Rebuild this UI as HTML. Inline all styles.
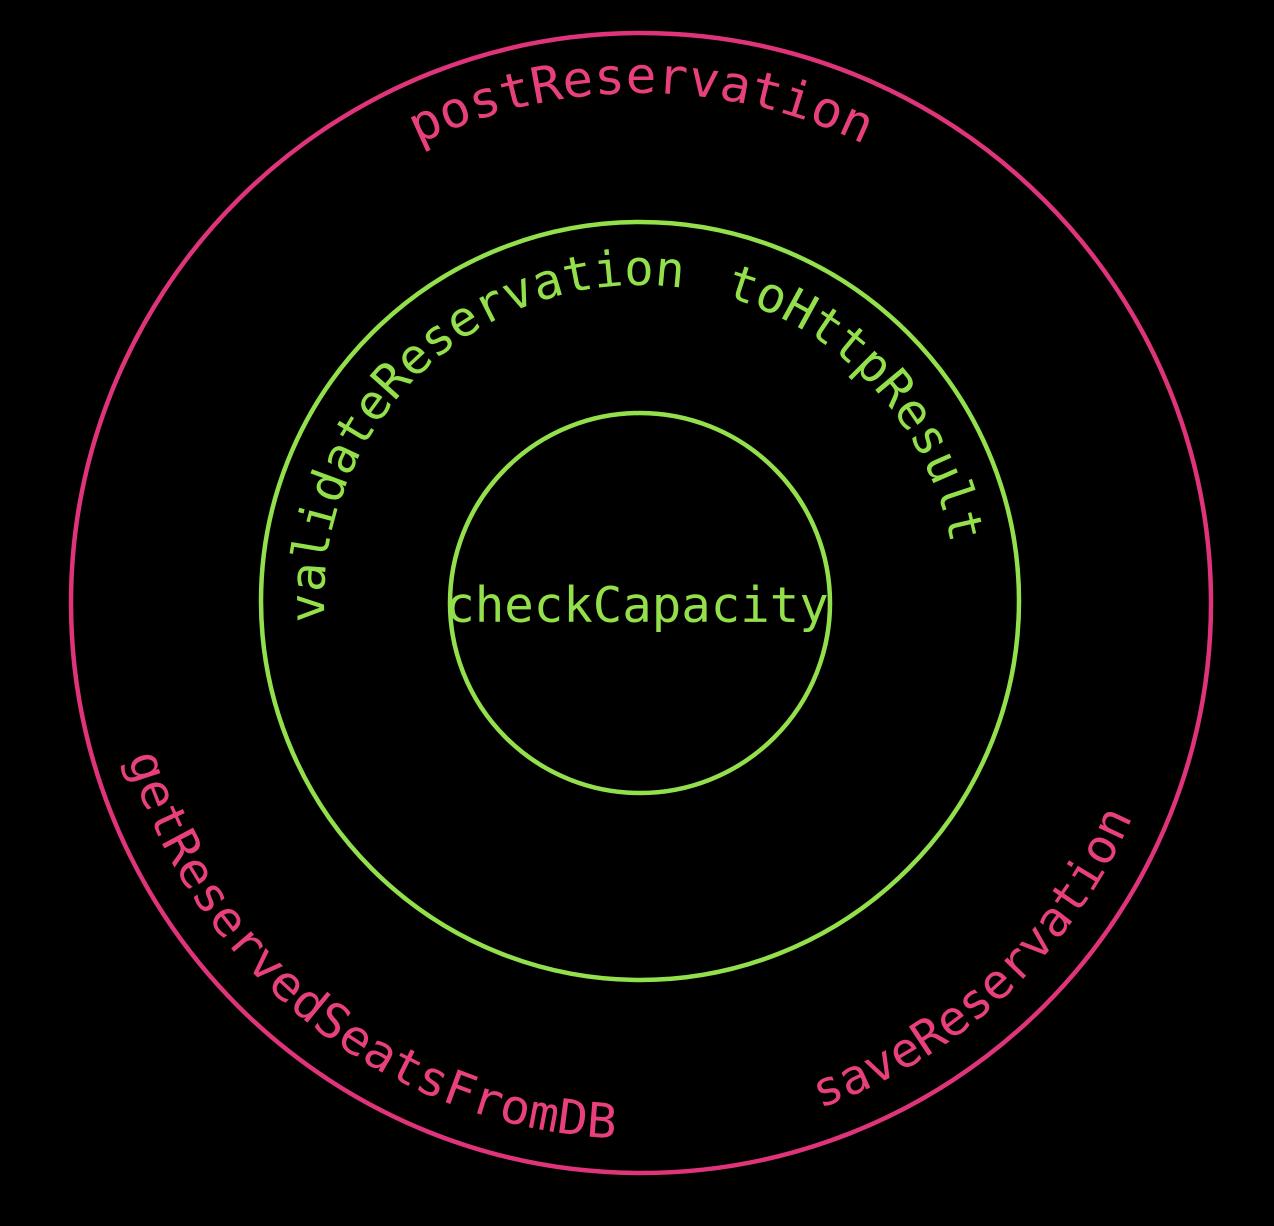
<!DOCTYPE html>
<html><head><meta charset="utf-8"><style>
html,body{margin:0;padding:0;background:#000;}
svg{display:block;}
text{font-family:"DejaVu Sans Mono","Liberation Mono",monospace;}
</style></head><body>
<svg id="s" width="1274" height="1226" viewBox="0 0 1274 1226">
<rect width="1274" height="1226" fill="#000"/>
<defs>
<path id="pPost"/><path id="pVal"/><path id="pHttp"/><path id="pGet"/><path id="pSave"/>
</defs>
<circle cx="641" cy="603" r="570" fill="none" stroke="#e0347a" stroke-width="4.5"/>
<circle cx="640" cy="601" r="379" fill="none" stroke="#93e04c" stroke-width="4.5"/>
<circle cx="640" cy="603" r="190" fill="none" stroke="#93e04c" stroke-width="4.5"/>
<text x="637" y="622" text-anchor="middle" font-size="49" fill="#93e04c">checkCapacity</text>
<text font-size="50" fill="#e8407c"><textPath href="#pPost" startOffset="50%" text-anchor="middle" textLength="462" lengthAdjust="spacingAndGlyphs">postReservation</textPath></text>
<text font-size="49" fill="#93e04c"><textPath href="#pVal" startOffset="50%" text-anchor="middle">validateReservation</textPath></text>
<text font-size="49" fill="#93e04c"><textPath href="#pHttp" startOffset="50%" text-anchor="middle">toHttpResult</textPath></text>
<text font-size="48" fill="#e8407c"><textPath href="#pGet" startOffset="50%" text-anchor="middle" textLength="660" lengthAdjust="spacingAndGlyphs">getReservedSeatsFromDB</textPath></text>
<text font-size="48" fill="#e8407c"><textPath href="#pSave" startOffset="50%" text-anchor="middle" textLength="440" lengthAdjust="spacingAndGlyphs">saveReservation</textPath></text>
</svg>
<script>
function pt(cx,cy,r,a){var t=a*Math.PI/180;return [cx+r*Math.sin(t),cy-r*Math.cos(t)];}
function arc(id,cx,cy,r,mid,cw){
  var a0=cw?mid-85:mid+85,a1=cw?mid+85:mid-85;
  var p0=pt(cx,cy,r,a0),p1=pt(cx,cy,r,a1);
  document.getElementById(id).setAttribute('d','M'+p0[0]+' '+p0[1]+' A'+r+' '+r+' 0 0 '+(cw?1:0)+' '+p1[0]+' '+p1[1]);
}
arc('pPost',641,603,510,0,true);
arc('pVal',640,601,316,-43,true);
arc('pHttp',640,601,316,47.5,true);
arc('pGet',641,603,536,218,false);
arc('pSave',641,603,536,137,false);
</script>
</body></html>
